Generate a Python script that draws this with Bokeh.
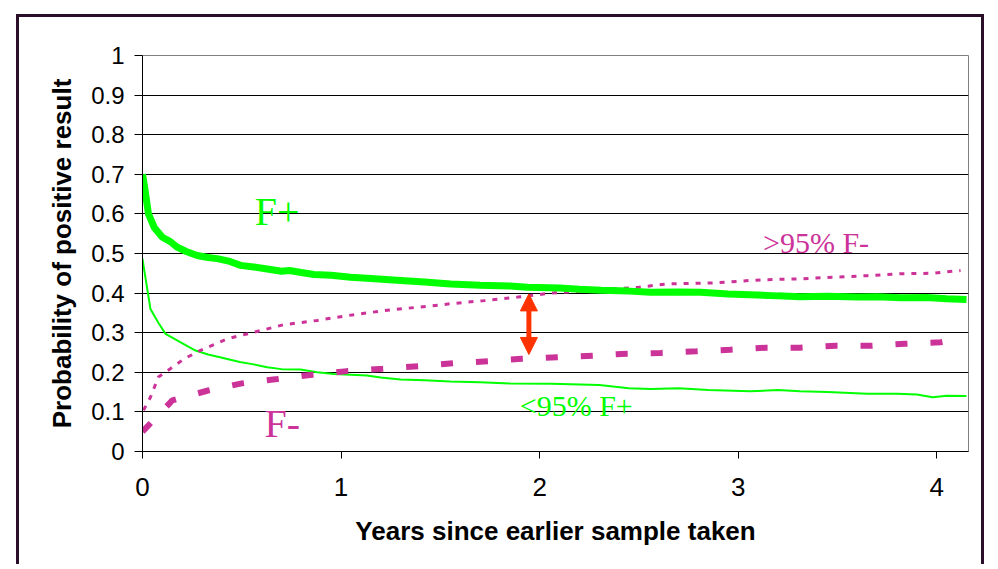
from bokeh.plotting import figure
from bokeh.models import Range1d, FixedTicker, Label, Arrow, NormalHead
from bokeh.embed import file_html
from bokeh.resources import INLINE

# ---- data ----
# F+ : thick solid green
fp_years = [0, 0.01, 0.03, 0.06, 0.1, 0.14, 0.175, 0.22, 0.275, 0.33, 0.376, 0.44, 0.494, 0.56, 0.628,
            0.70, 0.74, 0.80, 0.863, 0.95, 1.048, 1.15, 1.30, 1.42, 1.552, 1.7, 1.85, 1.94, 2.1, 2.2,
            2.31, 2.45, 2.56, 2.7, 2.81, 2.95, 3.06, 3.2, 3.31, 3.45, 3.6, 3.7, 3.82, 3.95, 4.05, 4.15]
fp_prob = [0.70, 0.67, 0.60, 0.565, 0.541, 0.53, 0.516, 0.505, 0.495, 0.49, 0.487, 0.48, 0.470, 0.466, 0.461,
           0.455, 0.457, 0.452, 0.447, 0.445, 0.44, 0.437, 0.432, 0.428, 0.423, 0.42, 0.418, 0.415, 0.413, 0.41,
           0.407, 0.405, 0.402, 0.403, 0.402, 0.398, 0.396, 0.393, 0.391, 0.392, 0.39, 0.391, 0.388, 0.389, 0.386, 0.384]

# <95% F+ : thin solid green
lfp_years = [0, 0.005, 0.04, 0.08, 0.116, 0.19, 0.267, 0.33, 0.39, 0.49, 0.56, 0.628, 0.7, 0.796, 0.88, 0.964,
             1.05, 1.13, 1.2, 1.30, 1.42, 1.55, 1.7, 1.85, 2.06, 2.3, 2.45, 2.56, 2.7, 2.85, 3.06, 3.2, 3.31,
             3.45, 3.65, 3.8, 3.9, 3.98, 4.05, 4.15]
lfp_prob = [0.487, 0.47, 0.36, 0.325, 0.297, 0.276, 0.255, 0.245, 0.238, 0.226, 0.22, 0.213, 0.208, 0.207, 0.2,
            0.196, 0.194, 0.192, 0.187, 0.182, 0.18, 0.177, 0.175, 0.172, 0.171, 0.168, 0.16, 0.158, 0.16, 0.155,
            0.152, 0.155, 0.152, 0.15, 0.146, 0.146, 0.144, 0.137, 0.141, 0.14]

# >95% F- : dotted magenta
hfm_years = [0.005, 0.04, 0.08, 0.14, 0.21, 0.29, 0.43, 0.56, 0.71, 0.88, 1.03, 1.22, 1.4, 1.55, 1.72, 1.89,
             2.06, 2.22, 2.39, 2.5, 2.64, 2.89, 3.06, 3.15, 3.31, 3.48, 3.65, 3.82, 3.98, 4.12]
hfm_prob = [0.104, 0.137, 0.188, 0.209, 0.234, 0.255, 0.285, 0.301, 0.32, 0.331, 0.343, 0.356, 0.365, 0.373,
            0.381, 0.39, 0.4, 0.405, 0.411, 0.415, 0.423, 0.426, 0.432, 0.434, 0.436, 0.44, 0.444, 0.449, 0.45, 0.457]

# F- : thick dashed magenta
fm_years = [0, 0.15, 0.33, 0.50, 0.68, 0.855, 1.03, 1.21, 1.4, 1.57, 1.74, 1.91, 2.09, 2.27, 2.44, 2.61,
            2.79, 2.96, 3.14, 3.31, 3.49, 3.67, 3.84, 4.02, 4.06]
fm_prob = [0.05, 0.129, 0.154, 0.172, 0.183, 0.194, 0.203, 0.209, 0.216, 0.223, 0.228, 0.234, 0.238, 0.242,
           0.247, 0.249, 0.253, 0.257, 0.262, 0.262, 0.267, 0.267, 0.272, 0.276, 0.28]

x_ticks = [0, 1, 2, 3, 4]
y_ticks = [0, 0.1, 0.2, 0.3, 0.4, 0.5, 0.6, 0.7, 0.8, 0.9, 1.0]
y_tick_labels = ["0", "0.1", "0.2", "0.3", "0.4", "0.5", "0.6", "0.7", "0.8", "0.9", "1"]
grid_values = [0.1, 0.2, 0.3, 0.4, 0.5, 0.6, 0.7, 0.8, 0.9]

GREEN = "#00ff00"
MAGENTA = "#cc3399"
BORDER = "3px solid #2a0e2a"

p = figure(width=968, height=550, output_backend="svg", toolbar_location=None,
           x_range=Range1d(0, 4.16), y_range=Range1d(0, 1),
           min_border_left=123, min_border_right=19, min_border_top=38, min_border_bottom=116)
p.styles = {"margin-left": "16px", "margin-top": "14px",
            "border-left": BORDER, "border-top": BORDER, "border-right": BORDER}
p.background_fill_color = "white"
p.border_fill_color = "white"
p.outline_line_color = "#808080"
p.outline_line_width = 1

p.xgrid.visible = False
p.ygrid.ticker = FixedTicker(ticks=grid_values)
p.ygrid.grid_line_color = "black"
p.ygrid.grid_line_width = 1

for ax in (p.xaxis[0], p.yaxis[0]):
    ax.axis_line_color = "black"
    ax.major_tick_line_color = "black"
    ax.minor_tick_line_color = None
    ax.major_tick_in = 0
    ax.major_label_text_font = "Liberation Sans"
    ax.major_label_text_color = "black"
    ax.axis_label_text_font = "Liberation Sans"
    ax.axis_label_text_font_style = "bold"
    ax.axis_label_text_color = "black"
    ax.axis_label_text_font_size = "26px"

p.xaxis.ticker = FixedTicker(ticks=x_ticks)
p.xaxis.major_tick_out = 7
p.xaxis.major_label_text_font_size = "26px"
p.xaxis.major_label_standoff = 19
p.xaxis.axis_label = "Years since earlier sample taken"
p.xaxis.axis_label_standoff = 17

p.yaxis.ticker = FixedTicker(ticks=y_ticks)
p.yaxis.major_label_overrides = {t: s for t, s in zip(y_ticks, y_tick_labels)}
p.yaxis.major_tick_out = 8
p.yaxis.major_label_text_font_size = "24px"
p.yaxis.major_label_standoff = 10
p.yaxis.axis_label = "Probability of positive result"
p.yaxis.axis_label_standoff = 11

p.line(lfp_years, lfp_prob, line_color=GREEN, line_width=2)
p.line(hfm_years, hfm_prob, line_color=MAGENTA, line_width=3, line_dash="5 7")
p.line(fm_years, fm_prob, line_color=MAGENTA, line_width=6, line_dash="12 23")
p.line(fp_years, fp_prob, line_color=GREEN, line_width=7)

p.add_layout(Arrow(x_start=1.946, y_start=0.245, x_end=1.946, y_end=0.398,
                   line_color="#ff3300", line_width=5,
                   start=NormalHead(size=17, fill_color="#ff3300", line_color="#ff3300"),
                   end=NormalHead(size=17, fill_color="#ff3300", line_color="#ff3300")))

def add_label(x, y, text, color, size):
    p.add_layout(Label(x=x, y=y, text=text, text_color=color, text_font="Liberation Serif",
                       text_font_size=size, text_align="left", text_baseline="alphabetic"))

add_label(0.565, 0.606, "F+", GREEN, "40px")
add_label(0.615, 0.071, "F-", MAGENTA, "40px")
add_label(1.90, 0.117, "<95% F+", GREEN, "30px")
add_label(3.125, 0.529, ">95% F-", MAGENTA, "30px")

open("out.html", "w").write(file_html(p, INLINE))
